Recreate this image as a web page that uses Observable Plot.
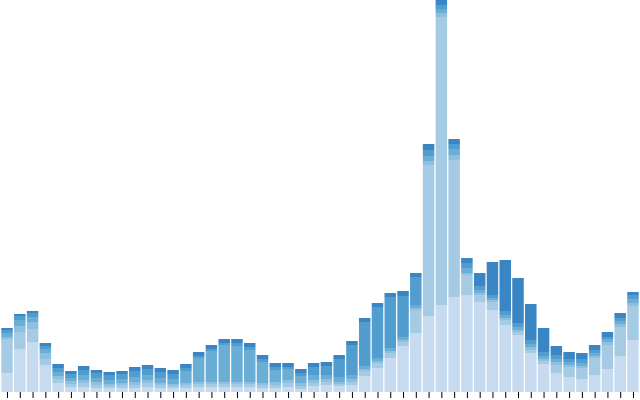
<!DOCTYPE html>
<html>
<head>
<meta charset="utf-8">
<script src="https://cdn.jsdelivr.net/npm/d3@7"></script>
<script src="https://cdn.jsdelivr.net/npm/@observablehq/plot@0.6"></script>
<style>
  html, body { margin: 0; padding: 0; background: #fff; }
  #chart svg { display: block; }
</style>
</head>
<body>
<div id="chart"></div>
<script>
// Category labels (x axis ticks; their labels fall outside the visible picture)
const periods = ["1","2","3","4","5","6","7","8","9","10",
  "11","12","13","14","15","16","17","18","19","20",
  "21","22","23","24","25","26","27","28","29","30",
  "31","32","33","34","35","36","37","38","39","40",
  "41","42","43","44","45","46","47","48","49","50"];

// Series names, bottom to top of each stack
const seriesNames = ["Series 1", "Series 2", "Series 3", "Series 4", "Series 5", "Series 6"];

// Series values (one value per period)
const series1 = [19,43,50,27,9,5,5,4,4,4, 4,5,4,4,4,5,5,5,5,5, 4,4,5,3,6,7,6,7,16,24, 34,46,59,76,87,95,97,90,82,67, 57,39,28,19,15,13,17,23,36,52];
const series2 = [34,17,13,6,4,3,4,3,2,3, 3,4,3,2,3,3,3,3,3,3, 3,3,4,3,3,3,2,3,5,5, 5,4,23,151,288,137,20,7,8,5, 3,3,3,8,10,11,17,24,29,34];
const series3 = [2,6,7,6,3,3,3,3,2,2, 3,3,2,2,2,2,2,2,2,2, 2,3,3,3,3,3,2,3,2,2, 2,2,2,4,4,5,2,2,2,2, 2,3,2,3,2,2,2,3,3,3];
const series4 = [4,6,5,4,4,3,5,4,4,4, 5,5,5,5,12,24,31,37,36,32, 21,12,11,7,5,4,5,4,3,3, 3,3,3,5,4,6,5,3,2,3, 3,3,3,3,3,3,3,3,3,4];
const series5 = [3,4,4,3,4,4,5,5,5,5, 6,6,6,5,3,2,2,2,3,3, 3,3,2,3,8,9,18,30,44,51, 51,41,28,6,4,5,5,4,3,4, 4,4,4,4,3,4,3,2,3,4];
const series6 = [2,2,2,3,4,3,4,3,3,3, 4,4,4,4,4,4,4,4,4,4, 4,4,4,4,4,4,4,4,4,4, 4,5,4,6,5,5,5,13,33,51, 45,36,24,9,7,6,5,5,5,3];

const seriesColors = ["#c6dbef", "#a5cbe4", "#8dbfe0", "#6aaed6", "#529dcf", "#3a85c3"];

const allSeries = [series1, series2, series3, series4, series5, series6];
const rows = [];
allSeries.forEach((vals, k) => {
  vals.forEach((v, i) => rows.push({period: periods[i], series: seriesNames[k], value: v}));
});

const totals = periods.map((p, i) => d3.sum(allSeries, s => s[i]));
const maxTotal = d3.max(totals);

const chart = Plot.plot({
  width: 640,
  height: 400,
  marginTop: 0,
  marginRight: 0,
  marginLeft: 0,
  marginBottom: 8,
  x: {domain: periods, padding: 0.1, label: null, axis: null},
  y: {domain: [0, maxTotal], axis: null},
  color: {domain: seriesNames, range: seriesColors},
  marks: [
    Plot.barY(rows, {x: "period", y: "value", fill: "series"}),
    Plot.axisX({tickSize: 6, tickFormat: () => null, label: null})
  ]
});
document.getElementById("chart").appendChild(chart);
</script>
</body>
</html>
